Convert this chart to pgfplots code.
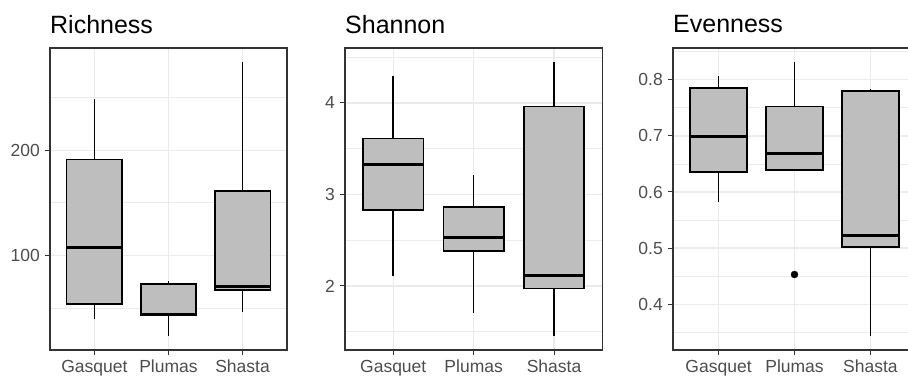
\documentclass[border=0pt]{standalone}
\usepackage{fontspec}
\setmainfont{Liberation Sans}
\usepackage{pgfplots}
\pgfplotsset{compat=1.18}
\definecolor{boxgray}{HTML}{BEBEBE}
\definecolor{gray20}{HTML}{333333}
\definecolor{gray30}{HTML}{4D4D4D}
\definecolor{gray92}{HTML}{EBEBEB}
\pgfplotsset{
  panel/.style={
    scale only axis,
    anchor=south west,
    height=302pt,
    xmin=0.4, xmax=3.6,
    xtick={1,2,3},
    xticklabels={Gasquet,Plumas,Shasta},
    tick pos=left,
    tick align=outside,
    major tick length=5pt,
    minor tick style={draw=none},
    major tick style={draw=gray20, line width=1pt},
    axis line style={draw=gray20, line width=1.3pt},
    grid=both,
    major grid style={draw=gray92, line width=1.3pt},
    minor grid style={draw=gray92, line width=0.8pt},
    /pgf/number format/assume math mode=true,
    tick label style={font=\fontsize{17.5}{20}\selectfont, text=gray30},
    yticklabel style={inner sep=0pt, xshift=-5pt},
    xticklabel style={inner sep=0pt, yshift=-5pt},
    title style={at={(0,1)}, anchor=base west, yshift=9pt, inner sep=0pt, font=\fontsize{25}{28}\selectfont},
  },
}
% #1 left edge, #2 centre, #3 right edge, #4 lower whisker, #5 Q1, #6 median, #7 Q3, #8 upper whisker
\newcommand{\bxp}[8]{%
  \addplot[black, line width=1.5pt, mark=none] coordinates {(#2,#4) (#2,#5)};
  \addplot[black, line width=1.5pt, mark=none] coordinates {(#2,#7) (#2,#8)};
  \addplot[draw=black, fill=boxgray, line width=1.6pt, mark=none] coordinates {(#1,#5) (#3,#5) (#3,#7) (#1,#7)} -- cycle;
  \addplot[black, line width=3pt, mark=none] coordinates {(#1,#6) (#3,#6)};
}
\begin{document}
\begin{tikzpicture}
\begin{axis}[panel, at={(50pt,26pt)}, width=237pt,
  title={Richness},
  ymin=10, ymax=297.4,
  ytick={100,200}, minor ytick={50,150,250}]
\bxp{0.625}{1}{1.375}{39.2}{53.6}{107.6}{191.4}{249}
\bxp{1.625}{2}{2.375}{23.3}{42.7}{43.6}{72.7}{75.8}
\bxp{2.625}{3}{3.375}{46.2}{67.2}{70.8}{161.5}{283.8}
\end{axis}
\begin{axis}[panel, at={(345pt,26pt)}, width=257.3pt,
  title={Shannon},
  ymin=1.30, ymax=4.60,
  ytick={2,3,4}, minor ytick={1.5,2.5,3.5,4.5}]
\bxp{0.625}{1}{1.375}{2.11}{2.83}{3.33}{3.61}{4.29}
\bxp{1.625}{2}{2.375}{1.70}{2.38}{2.53}{2.86}{3.21}
\bxp{2.625}{3}{3.375}{1.45}{1.97}{2.11}{3.96}{4.45}
\end{axis}
\begin{axis}[panel, at={(673pt,26pt)}, width=243pt,
  title={Evenness},
  ymin=0.3185, ymax=0.8565,
  ytick={0.4,0.5,0.6,0.7,0.8}, minor ytick={0.35,0.45,0.55,0.65,0.75,0.85},
  yticklabel style={/pgf/number format/fixed, /pgf/number format/precision=1, /pgf/number format/fixed zerofill}]
\bxp{0.625}{1}{1.375}{0.582}{0.636}{0.699}{0.785}{0.806}
\bxp{1.625}{2}{2.375}{0.639}{0.639}{0.669}{0.752}{0.832}
\bxp{2.625}{3}{3.375}{0.343}{0.502}{0.522}{0.780}{0.784}
\addplot[only marks, mark=*, mark size=3.5pt, black] coordinates {(2,0.453)};
\end{axis}
\pgfresetboundingbox
\path[use as bounding box] (0pt,0pt) rectangle (908pt,376pt);
\end{tikzpicture}
\end{document}
